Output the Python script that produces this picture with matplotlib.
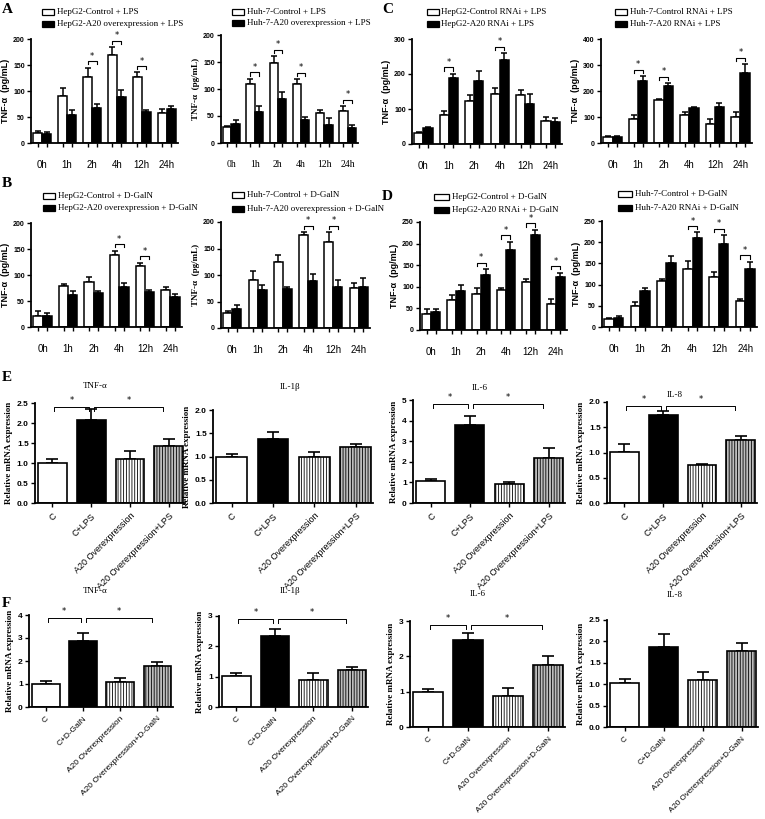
import numpy as np
import matplotlib.pyplot as plt
from matplotlib.patches import Rectangle

plt.rcParams['hatch.linewidth'] = 0.6

W, H = 765, 819
SANS = 'Liberation Sans'
SERIF = 'Liberation Serif'

times = ['0h', '1h', '2h', '4h', '12h', '24h']

# ---- time course, TNF-a (pg/mL) ----
a1_ctrl = [20, 91, 127, 169, 127, 58]
a1_ctrl_err = [3, 14, 18, 16, 9, 7]
a1_trt = [18, 54, 67, 88, 60, 65]
a1_trt_err = [3, 9, 8, 13, 3, 7]
a1_sig = ['2h', '4h', '12h']

a2_ctrl = [29, 109, 148, 110, 55, 59]
a2_ctrl_err = [3, 10, 13, 8, 6, 9]
a2_trt = [36, 57, 82, 42, 33, 27]
a2_trt_err = [6, 11, 13, 6, 13, 7]
a2_sig = ['1h', '2h', '4h', '24h']

b1_ctrl = [22, 78, 87, 138, 117, 71]
b1_ctrl_err = [8, 5, 9, 9, 7, 5]
b1_trt = [22, 61, 65, 76, 67, 58]
b1_trt_err = [5, 8, 5, 9, 5, 6]
b1_sig = ['4h', '12h']

b2_ctrl = [29, 91, 125, 175, 162, 75]
b2_ctrl_err = [3, 16, 13, 6, 19, 9]
b2_trt = [35, 71, 73, 88, 77, 77]
b2_trt_err = [8, 11, 4, 13, 14, 17]
b2_sig = ['4h', '12h']

c1_ctrl = [31, 84, 124, 144, 141, 66]
c1_ctrl_err = [4, 11, 15, 16, 14, 10]
c1_trt = [47, 188, 179, 241, 115, 64]
c1_trt_err = [2, 13, 31, 19, 28, 9]
c1_sig = ['1h', '4h']

c2_ctrl = [23, 92, 166, 109, 74, 100]
c2_ctrl_err = [4, 14, 4, 11, 19, 18]
c2_trt = [23, 240, 220, 134, 138, 268]
c2_trt_err = [4, 18, 10, 4, 15, 35]
c2_sig = ['1h', '2h', '24h']

d1_ctrl = [38, 69, 84, 92, 111, 60]
d1_ctrl_err = [10, 12, 14, 6, 7, 12]
d1_trt = [42, 91, 127, 185, 219, 122]
d1_trt_err = [6, 13, 14, 19, 13, 11]
d1_sig = ['2h', '4h', '12h', '24h']

d2_ctrl = [18, 49, 108, 136, 118, 62]
d2_ctrl_err = [3, 10, 6, 19, 11, 3]
d2_trt = [21, 85, 152, 211, 195, 136]
d2_trt_err = [5, 6, 16, 12, 22, 18]
d2_sig = ['4h', '12h', '24h']

# ---- qPCR, relative mRNA expression ----
groups_lps = ['C', 'C+LPS', 'A20 Overexpression', 'A20 Overexpression+LPS']
groups_gal = ['C', 'C+D-GalN', 'A20 Overexpression', 'A20 Overexpression+D-GalN']

e_tnf = [1.00, 2.07, 1.10, 1.43]
e_tnf_err = [0.09, 0.28, 0.19, 0.17]
e_il1b = [1.00, 1.38, 1.00, 1.21]
e_il1b_err = [0.06, 0.15, 0.10, 0.06]
e_il6 = [1.05, 3.78, 0.93, 2.18]
e_il6_err = [0.10, 0.42, 0.10, 0.50]
e_il8 = [1.01, 1.75, 0.75, 1.24]
e_il8_err = [0.16, 0.07, 0.02, 0.08]

f_tnf = [1.02, 2.88, 1.10, 1.78]
f_tnf_err = [0.12, 0.35, 0.18, 0.18]
f_il1b = [1.02, 2.35, 0.88, 1.23]
f_il1b_err = [0.10, 0.23, 0.24, 0.10]
f_il6 = [1.00, 2.47, 0.87, 1.75]
f_il6_err = [0.08, 0.20, 0.22, 0.25]
f_il8 = [1.02, 1.88, 1.10, 1.78]
f_il8_err = [0.10, 0.30, 0.18, 0.18]

fig = plt.figure(figsize=(W / 100, H / 100), dpi=100)


def px_axes(x0, x1, y0, y1):
    return fig.add_axes([x0 / W, 1 - y1 / H, (x1 - x0) / W, (y1 - y0) / H])


def style_axes(ax):
    for s in ['top', 'right']:
        ax.spines[s].set_visible(False)
    for s in ['left', 'bottom']:
        ax.spines[s].set_linewidth(1.3)
    ax.tick_params(axis='y', direction='out', length=3, width=1, pad=1.5)


def time_panel(box, ctrl, ctrl_err, trt, trt_err, sig, ymax, ystep,
               label_font=SANS, tick_font=SANS):
    ax = px_axes(*box)
    style_axes(ax)
    x = np.arange(len(times))
    w = 0.36
    ax.bar(x - w / 2, ctrl, w, color='white', edgecolor='black', linewidth=1.1, zorder=2)
    ax.bar(x + w / 2, trt, w, color='black', edgecolor='black', linewidth=1.1, zorder=2)
    zeros = np.zeros(len(times))
    ax.errorbar(x - w / 2, ctrl, yerr=[zeros, ctrl_err], fmt='none', ecolor='black',
                elinewidth=1.1, capsize=2, capthick=1.1, zorder=1)
    ax.errorbar(x + w / 2, trt, yerr=[zeros, trt_err], fmt='none', ecolor='black',
                elinewidth=1.1, capsize=2, capthick=1.1, zorder=1)
    for t in sig:
        i = times.index(t)
        top = max(ctrl[i] + ctrl_err[i], trt[i] + trt_err[i])
        h = top + 0.06 * ymax
        d = 0.03 * ymax
        ax.plot([i - w / 2, i - w / 2, i + w / 2, i + w / 2], [h - d, h, h, h - d],
                color='black', lw=0.8, clip_on=False)
        ax.text(i, h + 0.005 * ymax, '*', ha='center', va='bottom', fontsize=6, clip_on=False)
    ax.set_xlim(-0.45, len(times) - 0.55)
    ax.set_ylim(0, ymax)
    ax.set_yticks(np.arange(0, ymax + 1, ystep))
    for lab in ax.get_yticklabels():
        lab.set_fontsize(5)
        lab.set_fontweight('bold')
        lab.set_family(SANS)
    ax.set_xticks(x)
    ax.set_xticklabels(times, fontsize=7, family=tick_font)
    ax.tick_params(axis='x', which='major', length=0, pad=12)
    ax.set_xticks(np.r_[x - w / 2, x + w / 2], minor=True)
    ax.tick_params(axis='x', which='minor', length=3, width=1)
    ax.set_ylabel('TNF-\u03b1  (pg/mL)', fontsize=6.5, family=label_font,
                  fontweight='bold', labelpad=2)
    return ax


def mrna_panel(box, labels, vals, errs, ymax, ystep, fmt, sig, label_size=6.5):
    ax = px_axes(*box)
    style_axes(ax)
    x = np.arange(4)
    colors = ['white', 'black', 'white', '#bdbdbd']
    hatches = [None, None, '||||||', '||||||']
    for xi, v, c, hch in zip(x, vals, colors, hatches):
        ax.bar(xi, v, 0.74, color=c, edgecolor='black', linewidth=1.2, hatch=hch, zorder=2)
    ax.errorbar(x, vals, yerr=[np.zeros(4), errs], fmt='none', ecolor='black',
                elinewidth=1.2, capsize=4, capthick=1.2, zorder=1)
    if sig:
        h = 0.965 * ymax
        d = 0.04 * ymax
        for a, b in [(0.05, 0.95), (1.08, 2.85)]:
            ax.plot([a, a, b, b], [h - d, h, h, h - d], color='black', lw=0.7, clip_on=False)
            ax.text((a + b) / 2, h + 0.02 * ymax, '*', ha='center', va='bottom',
                    fontsize=6, clip_on=False)
    ax.set_xlim(-0.45, 3.42)
    ax.set_ylim(0, ymax)
    ticks = np.arange(0, ymax + ystep / 2, ystep)
    ax.set_yticks(ticks)
    ax.set_yticklabels([fmt.format(t) for t in ticks], fontsize=6, family=SANS,
                       fontweight='bold')
    ax.set_xticks(x)
    ax.set_xticklabels(labels, rotation=45, ha='right', rotation_mode='anchor',
                       fontsize=label_size, family=SANS)
    ax.tick_params(axis='x', length=3, width=1, pad=3)
    ax.set_ylabel('Relative mRNA expression', fontsize=6.5, family=SERIF,
                  fontweight='bold', labelpad=3)
    return ax


def legend(x_sq, x_txt, ys, labels, sq_w=12):
    for y, lab, col in zip(ys, labels, ['white', 'black']):
        fig.patches.append(Rectangle((x_sq / W, 1 - (y + 3) / H), sq_w / W, 6 / H,
                                     transform=fig.transFigure, facecolor=col,
                                     edgecolor='black', lw=0.9))
        fig.text(x_txt / W, 1 - y / H, lab, fontsize=6.5, family=SERIF, va='center')


# panels A - D
time_panel((31, 178, 39, 143), a1_ctrl, a1_ctrl_err, a1_trt, a1_trt_err, a1_sig, 200, 50)
time_panel((221, 358, 35, 143), a2_ctrl, a2_ctrl_err, a2_trt, a2_trt_err, a2_sig, 200, 50,
           label_font=SERIF, tick_font=SERIF)
time_panel((412, 562, 39, 144), c1_ctrl, c1_ctrl_err, c1_trt, c1_trt_err, c1_sig, 300, 100)
time_panel((601, 752, 39, 143), c2_ctrl, c2_ctrl_err, c2_trt, c2_trt_err, c2_sig, 400, 100)
time_panel((31, 182, 223, 327), b1_ctrl, b1_ctrl_err, b1_trt, b1_trt_err, b1_sig, 200, 50)
time_panel((221, 370, 222, 328), b2_ctrl, b2_ctrl_err, b2_trt, b2_trt_err, b2_sig, 200, 50,
           label_font=SERIF)
time_panel((420, 567, 222, 330), d1_ctrl, d1_ctrl_err, d1_trt, d1_trt_err, d1_sig, 250, 50)
time_panel((602, 757, 221, 327), d2_ctrl, d2_ctrl_err, d2_trt, d2_trt_err, d2_sig, 250, 50)

legend(42, 57, [12, 24], ['HepG2-Control + LPS', 'HepG2-A20 overexpression + LPS'])
legend(232, 247, [12, 23], ['Huh-7-Control + LPS', 'Huh-7-A20 overexpression + LPS'])
legend(427, 441, [12, 24], ['HepG2-Control RNAi + LPS', 'HepG2-A20 RNAi + LPS'])
legend(615, 630, [12, 24], ['Huh-7-Control RNAi + LPS', 'Huh-7-A20 RNAi + LPS'])
legend(43, 58, [196, 208], ['HepG2-Control + D-GalN', 'HepG2-A20 overexpression + D-GalN'])
legend(232, 247, [195, 209], ['Huh-7-Control + D-GalN', 'Huh-7-A20 overexpression + D-GalN'])
legend(434, 452, [197, 210], ['HepG2-Control + D-GalN', 'HepG2-A20 RNAi + D-GalN'], sq_w=15)
legend(618, 635, [194, 208], ['Huh-7-Control + D-GalN', 'Huh-7-A20 RNAi + D-GalN'], sq_w=14)

# panel E (LPS)
mrna_panel((35, 185, 403, 503), groups_lps, e_tnf, e_tnf_err, 2.5, 0.5, '{:.1f}', True)
mrna_panel((213, 373, 410, 503), groups_lps, e_il1b, e_il1b_err, 2.0, 0.5, '{:.1f}', False)
mrna_panel((413, 565, 400, 503), groups_lps, e_il6, e_il6_err, 5, 1, '{:.0f}', True)
mrna_panel((607, 757, 402, 503), groups_lps, e_il8, e_il8_err, 2.0, 0.5, '{:.1f}', True)

# panel F (D-GalN)
mrna_panel((29, 173, 615, 707), groups_gal, f_tnf, f_tnf_err, 4, 1, '{:.0f}', True, 6)
mrna_panel((219, 368, 616, 707), groups_gal, f_il1b, f_il1b_err, 3, 1, '{:.0f}', True, 6)
mrna_panel((410, 565, 621, 727), groups_gal, f_il6, f_il6_err, 3, 1, '{:.0f}', True, 5.8)
mrna_panel((607, 758, 620, 727), groups_gal, f_il8, f_il8_err, 2.5, 0.5, '{:.1f}', False, 5.8)

# subplot titles
for xc, yc, t in [(95, 386, 'TNF-\u03b1'), (290, 387, 'IL-1\u03b2'), (480, 388, 'IL-6'),
                  (675, 395, 'IL-8'), (95, 591, 'TNF-\u03b1'), (290, 591, 'IL-1\u03b2'),
                  (478, 594, 'IL-6'), (675, 595, 'IL-8')]:
    fig.text(xc / W, 1 - yc / H, t, fontsize=6.5, family=SERIF, ha='center', va='center')

# panel letters
for xl, yl, t in [(2, 3, 'A'), (2, 177, 'B'), (382, 3, 'C'), (382, 190, 'D'),
                  (2, 371, 'E'), (2, 597, 'F')]:
    fig.text(xl / W, 1 - yl / H, t, fontsize=11, family=SERIF, fontweight='bold',
             ha='left', va='top')

fig.savefig('out.png', dpi=100)
